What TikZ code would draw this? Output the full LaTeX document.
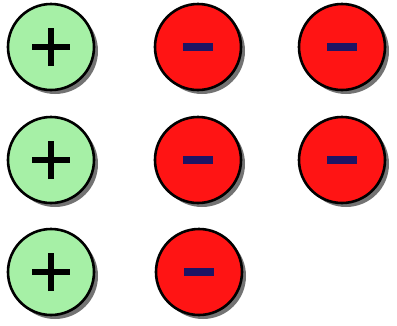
\documentclass[tikz,border=0pt]{standalone}
\usetikzlibrary{shadows}
\definecolor{posgreen}{RGB}{166,240,166}
\definecolor{negred}{RGB}{255,20,20}
\definecolor{minusblue}{RGB}{30,20,100}
\definecolor{shadowgray}{RGB}{80,80,80}
\begin{document}
\begin{tikzpicture}[x=1pt,y=-1pt,
  charge/.style={circle,draw=black,line width=2.6pt,minimum size=86pt,inner sep=0pt,
    drop shadow={shadow xshift=4pt,shadow yshift=-4pt,fill=shadowgray,opacity=0.8}},
  poscharge/.style={charge,fill=posgreen},
  negcharge/.style={charge,fill=negred},
  plussign/.style={line width=6pt,black},
  minussign/.style={line width=8pt,minusblue}]
\useasboundingbox (0,0) rectangle (397,325);
\node[poscharge] (p1) at (51,47) {};
\node[poscharge] (p2) at (51,160) {};
\node[poscharge] (p3) at (51,272) {};
\node[negcharge] (n1) at (198,47) {};
\node[negcharge] (n2) at (342,47) {};
\node[negcharge] (n3) at (198,160) {};
\node[negcharge] (n4) at (342,160) {};
\node[negcharge] (n5) at (199,272) {};
\foreach \p in {p1,p2,p3}{
  \draw[plussign] ([xshift=-19pt]\p.center) -- ([xshift=19pt]\p.center);
  \draw[plussign] ([yshift=-19pt]\p.center) -- ([yshift=19pt]\p.center);
}
\foreach \n in {n1,n2,n3,n4,n5}{
  \draw[minussign] ([xshift=-15pt]\n.center) -- ([xshift=15pt]\n.center);
}
\end{tikzpicture}
\end{document}
